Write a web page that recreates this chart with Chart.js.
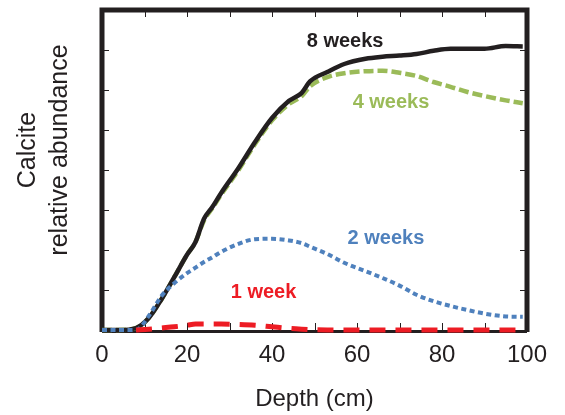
<!DOCTYPE html>
<html>
<head>
<meta charset="utf-8">
<script src="https://cdn.jsdelivr.net/npm/chart.js@4.4.1/dist/chart.umd.min.js"></script>
<style>
  html, body { margin: 0; padding: 0; background: #fff; }
</style>
</head>
<body>
<canvas id="chart" width="565" height="415"></canvas>
<script>
// depth (cm) and relative calcite abundance
const depth = [0, 4, 8, 11, 14, 17, 20, 22, 24, 26, 28, 32, 36, 40, 44, 47, 49, 53, 57, 62, 66, 70, 74, 78, 82, 86, 90, 95, 99];
const week8 = [0, 0, 0.05, 0.3, 0.77, 1.32, 1.88, 2.2, 2.78, 3.08, 3.42, 4.03, 4.7, 5.3, 5.73, 5.93, 6.22, 6.45, 6.65, 6.78, 6.83, 6.86, 6.9, 6.98, 7.03, 7.03, 7.03, 7.1, 7.09];
const week4 = [0, 0, 0.05, 0.3, 0.77, 1.32, 1.88, 2.2, 2.74, 3.05, 3.38, 3.98, 4.65, 5.24, 5.65, 5.85, 6.1, 6.32, 6.42, 6.47, 6.48, 6.43, 6.35, 6.2, 6.08, 5.95, 5.85, 5.74, 5.67];
const week2 = [0, 0, 0, 0.35, 0.85, 1.17, 1.42, 1.56, 1.7, 1.82, 1.95, 2.15, 2.27, 2.28, 2.24, 2.17, 2.08, 1.9, 1.68, 1.47, 1.3, 1.11, 0.88, 0.72, 0.6, 0.5, 0.41, 0.34, 0.33];
const week1 = [null, null, 0, 0.02, 0.05, 0.08, 0.12, 0.15, 0.15, 0.15, 0.15, 0.14, 0.12, 0.08, 0.04, 0.02, 0.01, 0, 0, 0, 0, 0, 0, 0, 0, 0, 0, 0, 0];

const seriesNames = ['1 week', '2 weeks', '4 weeks', '8 weeks'];
// where each curve name sits, in data units [depth, abundance], same order as seriesNames
const nameSpots = [[38, 0.95], [66.8, 2.28], [68, 5.7], [57.2, 7.22]];

const INK = '#231f20';
const RED = '#ed1c24';
const BLUE = '#4f81bd';
const GREEN = '#9bbb59';
const FONT = '"Liberation Sans", Arial, Helvetica, sans-serif';

Chart.defaults.font.family = FONT;
Chart.defaults.color = INK;

const pts = (vals) => depth.map((d, i) => ({ x: d, y: vals[i] }));

const frame = {
  id: 'frame',
  beforeDatasetsDraw(chart) {
    const { ctx, chartArea: a, scales: { x, y } } = chart;
    ctx.save();
    ctx.strokeStyle = INK;
    ctx.lineWidth = 1;
    ctx.beginPath();
    for (let v = 10; v < 100; v += 10) {
      const px = Math.round(x.getPixelForValue(v)) + 0.5;
      ctx.moveTo(px, a.top); ctx.lineTo(px, a.top + 7);
      ctx.moveTo(px, a.bottom); ctx.lineTo(px, a.bottom - 7);
    }
    for (let v = 1; v < 8; v++) {
      const py = Math.round(y.getPixelForValue(v)) + 0.5;
      ctx.moveTo(a.left, py); ctx.lineTo(a.left + 7, py);
      ctx.moveTo(a.right, py); ctx.lineTo(a.right - 7, py);
    }
    ctx.stroke();

    ctx.lineWidth = 5;
    ctx.lineJoin = 'miter';
    ctx.beginPath();
    ctx.moveTo(a.left, a.bottom + 2);
    ctx.lineTo(a.left, a.top);
    ctx.lineTo(a.right, a.top);
    ctx.lineTo(a.right, a.bottom + 2);
    ctx.stroke();
    ctx.lineWidth = 3;
    ctx.beginPath();
    ctx.moveTo(a.left, a.bottom + 1.5);
    ctx.lineTo(a.right, a.bottom + 1.5);
    ctx.stroke();
    ctx.restore();
  },
  afterDatasetsDraw(chart) {
    const { ctx, scales: { x, y } } = chart;
    ctx.save();
    ctx.font = 'bold 20px ' + FONT;
    ctx.textAlign = 'center';
    ctx.textBaseline = 'middle';
    chart.data.datasets.forEach((ds) => {
      const spot = nameSpots[seriesNames.indexOf(ds.label)];
      ctx.fillStyle = ds.borderColor;
      ctx.fillText(ds.label, x.getPixelForValue(spot[0]), y.getPixelForValue(spot[1]));
    });

    // y axis title, two lines rotated
    ctx.fillStyle = INK;
    ctx.font = '25px ' + FONT;
    ctx.translate(28, 150);
    ctx.rotate(-Math.PI / 2);
    ctx.fillText('Calcite', 0, 0);
    ctx.fillText('relative abundance', 0, 32);
    ctx.restore();
  },
};

new Chart(document.getElementById('chart'), {
  type: 'line',
  data: {
    datasets: [
      { label: seriesNames[0], data: pts(week1), borderColor: RED, borderWidth: 5, borderDash: [16, 10] },
      { label: seriesNames[1], data: pts(week2), borderColor: BLUE, borderWidth: 4, borderDash: [5, 3.5] },
      { label: seriesNames[3], data: pts(week8), borderColor: INK, borderWidth: 4.5 },
      { label: seriesNames[2], data: pts(week4), borderColor: GREEN, borderWidth: 4.5, borderDash: [10, 4] },
    ].map((ds) => ({ ...ds, pointRadius: 0, fill: false, cubicInterpolationMode: 'monotone', clip: false })),
  },
  options: {
    responsive: false,
    animation: false,
    layout: { padding: { top: 10, right: 38, left: 0, bottom: 0 } },
    plugins: { legend: { display: false }, tooltip: { enabled: false } },
    scales: {
      x: {
        type: 'linear',
        min: 0,
        max: 100,
        afterFit: (s) => { s.height = 85; },
        grid: { display: false, drawTicks: false },
        border: { display: false },
        ticks: { stepSize: 20, padding: 11, font: { size: 24 }, color: INK, maxRotation: 0 },
        title: { display: true, text: 'Depth (cm)', font: { size: 24 }, color: INK, padding: { bottom: 1 } },
      },
      y: {
        min: 0,
        max: 8,
        afterFit: (s) => { s.width = 102; },
        grid: { display: false, drawTicks: false },
        border: { display: false },
        ticks: { display: false, stepSize: 1 },
      },
    },
  },
  plugins: [frame],
});
</script>
</body>
</html>
